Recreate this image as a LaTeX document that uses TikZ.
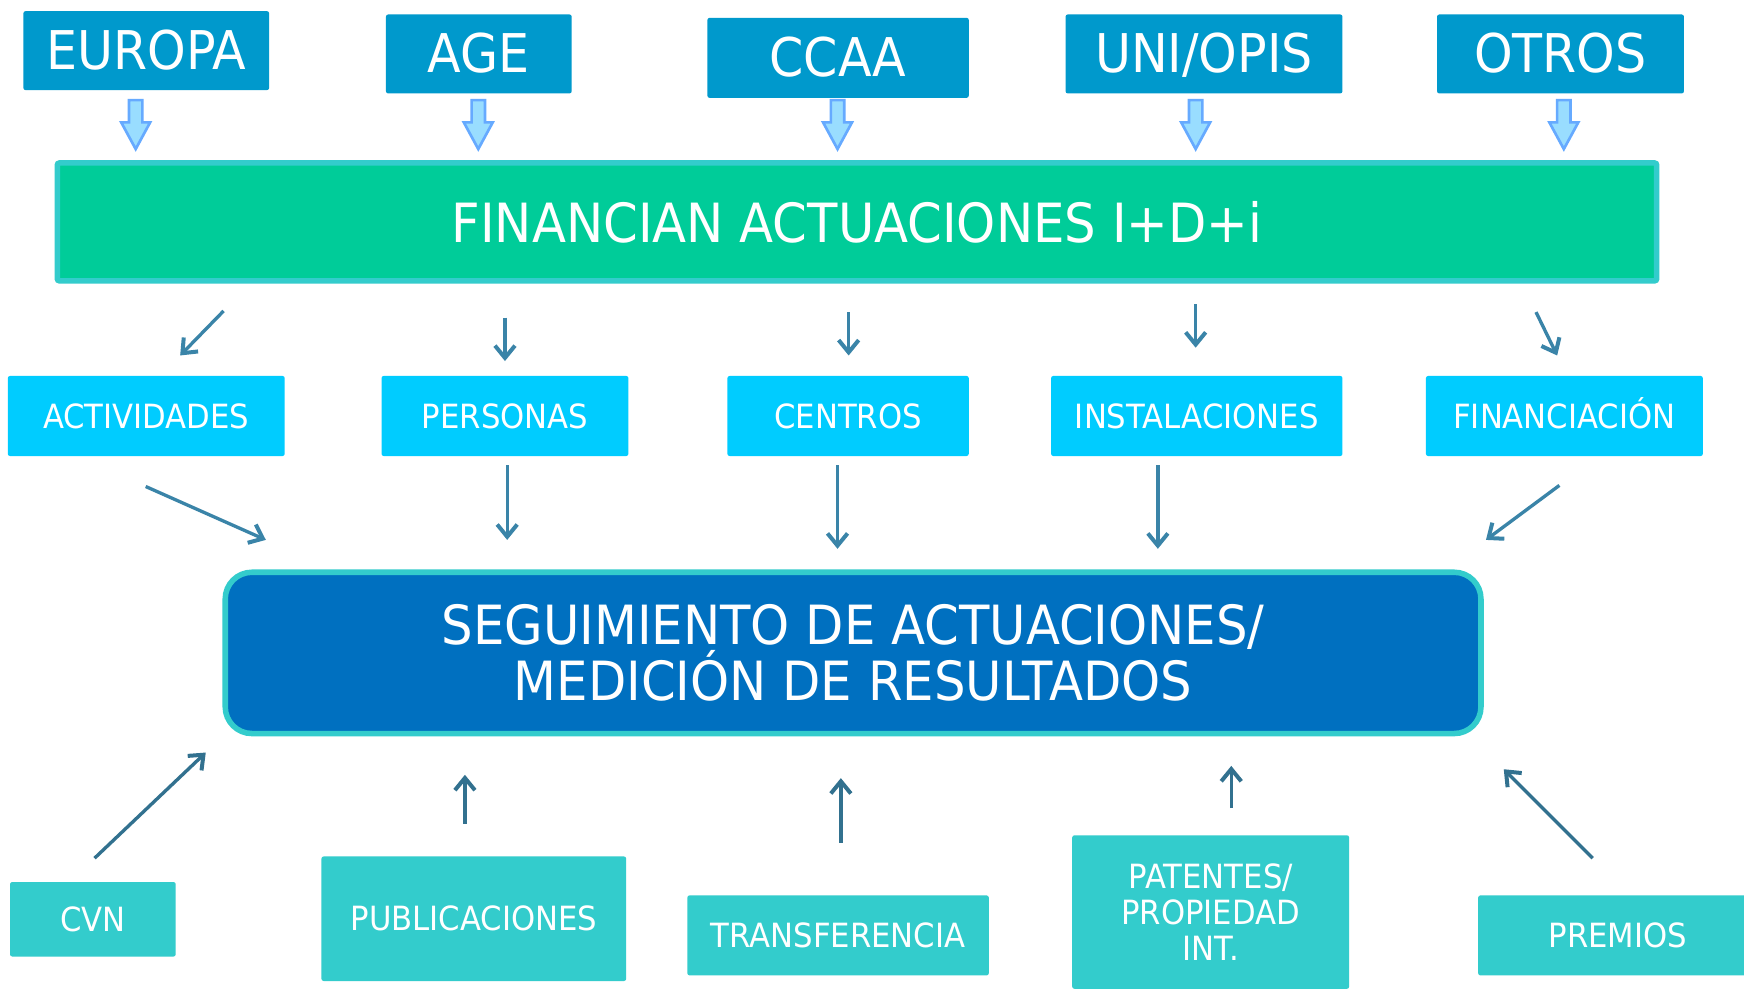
\documentclass[tikz,border=0pt]{standalone}
\usepackage{fontspec}
\setmainfont[FakeStretch=0.92]{DejaVu Sans}
\usepackage{tikz}
\usetikzlibrary{arrows,arrows.meta,calc,positioning}

\definecolor{fuenteazul}{HTML}{0099CC}
\definecolor{bloqrelleno}{HTML}{99DDFF}
\definecolor{bloqborde}{HTML}{66AAFF}
\definecolor{verdefin}{HTML}{00CC99}
\definecolor{turquesa}{HTML}{33CCCC}
\definecolor{celeste}{HTML}{00CCFF}
\definecolor{azulseg}{HTML}{0070C0}
\definecolor{flechacol}{HTML}{3A84A8}
\definecolor{flechaosc}{HTML}{32718F}

\begin{document}
\begin{tikzpicture}[x=0.5pt,y=-0.5pt,>={Straight Barb[length=5.5pt,width=9pt,line width=1.8pt]},align=center,
	caja/.style={inner sep=0pt,text=white,rounded corners=1pt},
	fuente/.style={caja,fill=fuenteazul,minimum height=35.5pt,text height=17pt,text depth=0pt,font=\fontsize{24}{28}\selectfont},
	finan/.style={caja,fill=verdefin,draw=turquesa,line width=2.5pt,font=\fontsize{24.3}{28}\selectfont},
	objeto/.style={caja,fill=celeste,minimum height=36pt,text height=11pt,text depth=0pt,font=\fontsize{15}{18}\selectfont},
	segui/.style={caja,fill=azulseg,draw=turquesa,line width=2.5pt,rounded corners=12pt,font=\fontsize{24.3}{25.5}\selectfont},
	dato/.style={caja,fill=turquesa,font=\fontsize{15}{16}\selectfont},
	bloque/.style={fill=bloqrelleno,draw=bloqborde,line width=1.2pt},
	flecha/.style={color=flechacol,line width=1.5pt,->},
	flechab/.style={color=flechaosc,line width=1.5pt,->}]
	\useasboundingbox (0,0) rectangle (1568,889);
	\fill[white] (0,0) rectangle (1568,889);

	% fuentes de financiacion
	\node[fuente,minimum width=110.5pt] (eur) at (131.5,45.5) {EUROPA};
	\node[fuente,minimum width=83.5pt] (age) at (430.5,48.5) {AGE};
	\node[fuente,minimum width=117.5pt,minimum height=36pt] (ccaa) at (753.5,52) {CCAA};
	\node[fuente,minimum width=124.5pt] (uni) at (1082.5,48.5) {UNI/OPIS};
	\node[fuente,minimum width=111pt] (otr) at (1403,48.5) {OTROS};

	\node[finan,minimum width=719pt,minimum height=53pt] (fin) at (770.5,199.5) {FINANCIAN ACTUACIONES I+D+i};

	\foreach \n/\dx in {eur/-9.5,age/-0.5,ccaa/-0.5,uni/-7.5,otr/3}
		\draw[bloque] ($(\n.south |- fin.north)+(\dx,0)$) ++(-6,-54) -- ++(12,0) -- ++(0,20)
			-- ++(7,0) -- ++(-13,24) -- ++(-13,-24) -- ++(7,0) -- cycle;

	% que se financia
	\node[objeto,minimum width=124.5pt] (act) at (131.5,374) {ACTIVIDADES};
	\node[objeto,minimum width=111pt] (per) at (454,374) {PERSONAS};
	\node[objeto,minimum width=108.5pt] (cen) at (762.5,374) {CENTROS};
	\node[objeto,minimum width=131pt] (ins) at (1076,374) {INSTALACIONES};
	\node[objeto,minimum width=124.5pt] (fnc) at (1406.5,374) {FINANCIACIÓN};

	\node[segui,minimum width=564.5pt,minimum height=72.5pt] (seg) at (767,587)
		{SEGUIMIENTO DE ACTUACIONES/\\MEDICIÓN DE RESULTADOS};

	\path[flecha]
		([shift={(69.5,-58)}]act.north) edge ([shift={(30.5,-18)}]act.north)
		([shift={(0,-52)}]per.north) edge ([shift={(0,-13)}]per.north)
		([shift={(0.5,-57)}]cen.north) edge ([shift={(0.5,-18)}]cen.north)
		([shift={(-1,-64)}]ins.north) edge ([shift={(-1,-25)}]ins.north)
		([shift={(-25.5,-57)}]fnc.north) edge ([shift={(-6.5,-18)}]fnc.north)
		([shift={(-0.5,27)}]act.south) edge ([shift={(107.5,75)}]act.south)
		([shift={(2,8)}]per.south) edge ([shift={(2,75)}]per.south)
		([shift={(-9.5,8)}]cen.south) edge ([shift={(-9.5,83)}]cen.south)
		([shift={(-35,8)}]ins.south) edge ([shift={(-35,83)}]ins.south)
		([shift={(-4.5,26)}]fnc.south) edge ([shift={(-70.5,75)}]fnc.south);

	% fuentes de datos
	\node[dato,minimum width=74.5pt,minimum height=33.5pt] (cvn) at (83.5,826.5) {CVN};
	\node[dato,minimum width=137pt,minimum height=56pt] (pub) at (426,826) {PUBLICACIONES};
	\node[dato,minimum width=135.5pt,minimum height=36pt] (tra) at (753.5,841) {TRANSFERENCIA};
	\node[dato,minimum width=124.5pt,minimum height=69pt] (pat) at (1088.5,820) {PATENTES/\\PROPIEDAD\\INT.};
	\node[dato,minimum width=125.5pt,minimum height=36pt] (pre) at (1454.5,841) {PREMIOS};

	\path[flechab]
		([shift={(1.5,-21)}]cvn.north) edge ([shift={(101.5,-116)}]cvn.north)
		([shift={(-8,-29)}]pub.north) edge ([shift={(-8,-73)}]pub.north)
		([shift={(2.5,-47)}]tra.north) edge ([shift={(2.5,-105)}]tra.north)
		([shift={(18.5,-24)}]pat.north) edge ([shift={(18.5,-62)}]pat.north)
		([shift={(-22.5,-33)}]pre.north) edge ([shift={(-102.5,-113)}]pre.north);
\end{tikzpicture}
\end{document}
